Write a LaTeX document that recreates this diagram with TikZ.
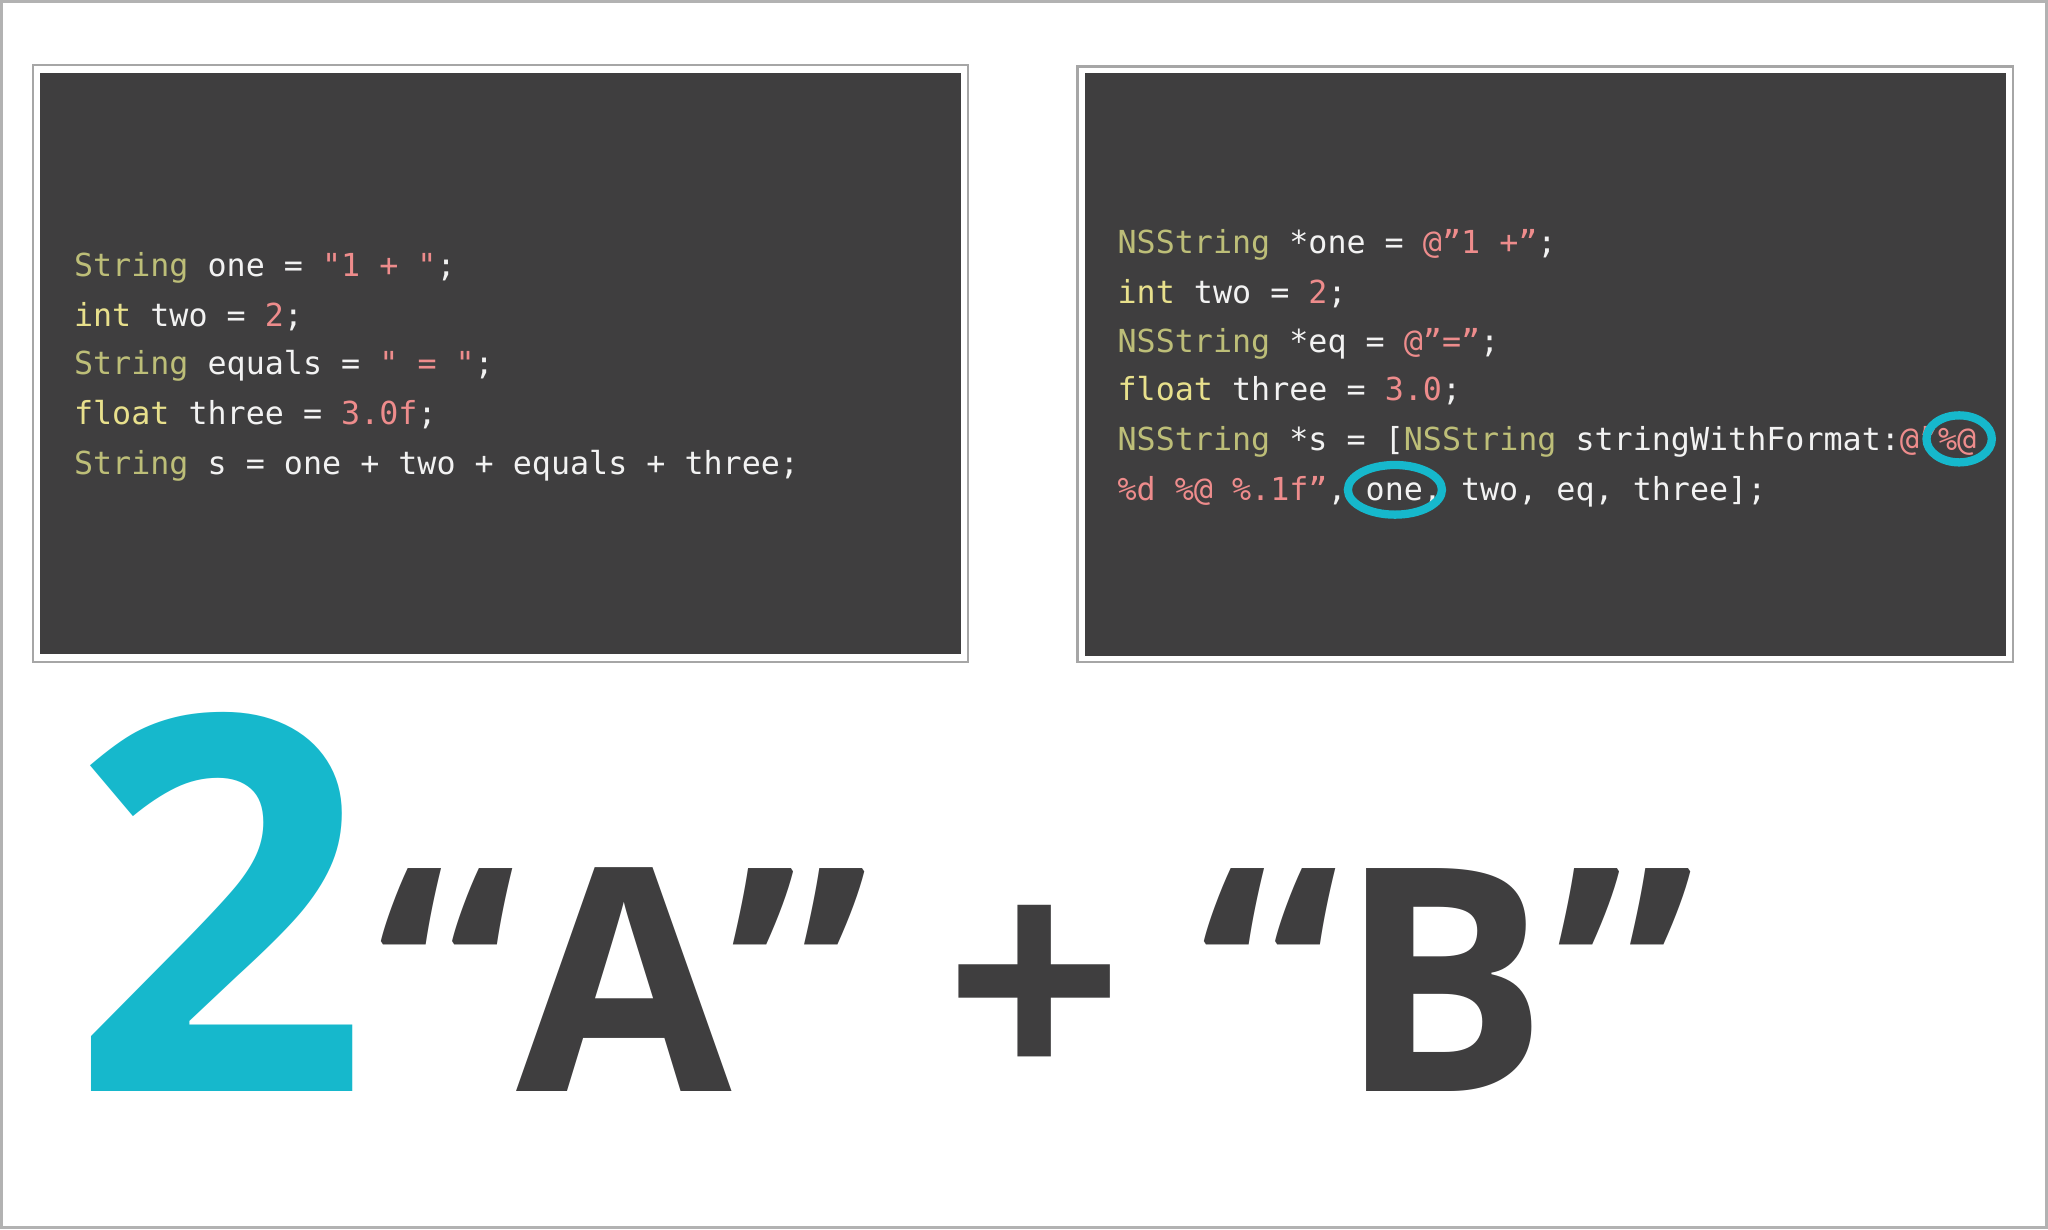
\documentclass[tikz,border=0pt]{standalone}
\usepackage{fontspec}
\setmonofont{DejaVu Sans Mono}
\newfontfamily\bigfont{Open Sans}
\usetikzlibrary{shapes.geometric}
\definecolor{panel}{HTML}{3F3E3F}
\definecolor{kw}{HTML}{BDBE78}
\definecolor{ty}{HTML}{E8E08C}
\definecolor{st}{HTML}{EE8C8C}
\definecolor{tx}{HTML}{F2F2F2}
\definecolor{cy}{HTML}{16B8CC}
\newcommand{\ckw}[1]{\textcolor{kw}{#1}}
\newcommand{\cty}[1]{\textcolor{ty}{#1}}
\newcommand{\cst}[1]{\textcolor{st}{#1}}
\tikzset{code/.style={anchor=base west,inner sep=0,text=tx,font=\ttfamily\fontsize{6.9}{8}\selectfont},
 frame/.style={draw=gray!70,line width=0.5pt,fill=white},
 pan/.style={fill=panel},
 ring/.style={draw=cy,line width=1.8pt,ellipse,inner sep=0},
 big/.style={anchor=base,inner sep=0,text=panel,font=\bigfont\bfseries\fontsize{68}{70}\selectfont}}
\begin{document}
\begin{tikzpicture}[x=0.01cm,y=-0.01cm]
\useasboundingbox (0,0) rectangle (1568,941);
\fill[white] (0,0) rectangle (1568,941);
\draw[gray!60,line width=0.6pt] (1,1) rectangle (1567,940);
\draw[frame] (25,50) rectangle (741,507);
\fill[pan] (31,56) rectangle (736,501);
\draw[frame] (825,51) rectangle (1541,507);
\fill[pan] (831,56) rectangle (1536,502);
% left code
\node[code] (l1) at (56,212) {\ckw{String} one = \cst{"1 + "};};
\node[code] (l2) at (56,250) {\cty{int} two = \cst{2};};
\node[code] (l3) at (56,287) {\ckw{String} equals = \cst{" = "};};
\node[code] (l4) at (56,325) {\cty{float} three = \cst{3.0f};};
\node[code] (l5) at (56,363) {\ckw{String} s = one + two + equals + three;};
% right code
\node[code] (r1) at (855,194) {\ckw{NSString} *one = \cst{@”1 +”};};
\node[code] (r2) at (855,232) {\cty{int} two = \cst{2};};
\node[code] (r3) at (855,270) {\ckw{NSString} *eq = \cst{@”=”};};
\node[code] (r4) at (855,307) {\cty{float} three = \cst{3.0};};
\node[code] (r5) at (855,345) {\ckw{NSString} *s = [\ckw{NSString} stringWithFormat:\cst{@”\%@}};
\node[code] (r6) at (855,383) {\cst{\%d \%@ \%.1f”}, one, two, eq, three];};
\node[ring,minimum width=0.5cm,minimum height=0.36cm] (c1) at (1500,336) {};
\node[ring,minimum width=0.72cm,minimum height=0.38cm] (c2) at (1068,375) {};
% big text
\node[anchor=base west,inner sep=0,text=cy,font=\bigfont\bfseries\fontsize{114}{120}\selectfont] (two) at (53,836) {2};
\node[big] (q1) at (342,836) {“};
\node[big] (a) at (478,836) {A};
\node[big] (q2) at (612,836) {”};
\node[big] (plus) at (792,836) {+};
\node[big] (q3) at (972,836) {“};
\node[big] (b) at (1105,836) {B};
\node[big] (q4) at (1244,836) {”};
\end{tikzpicture}
\end{document}
